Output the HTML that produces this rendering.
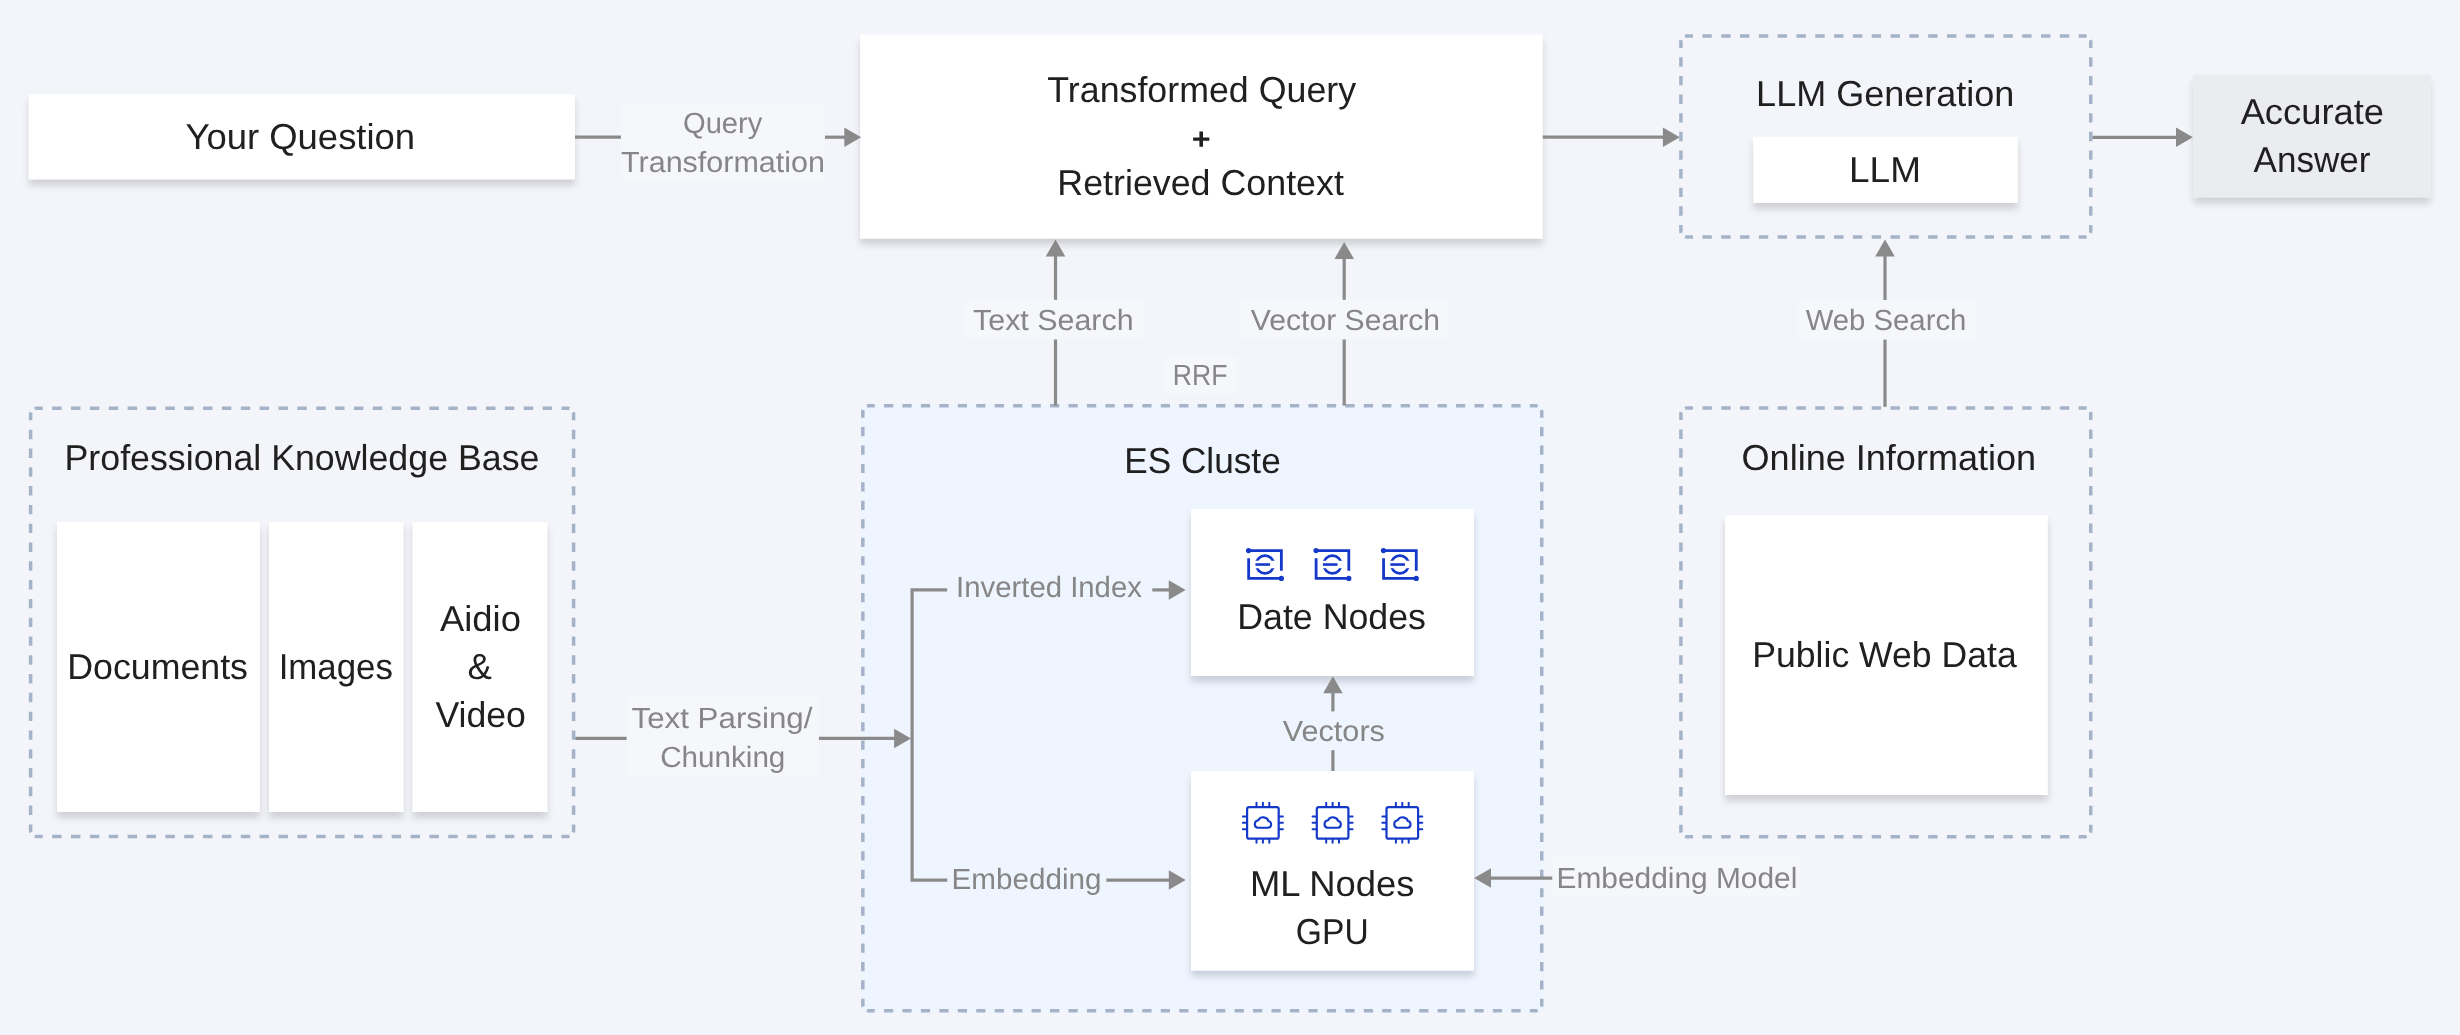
<!DOCTYPE html>
<html lang="en"><head><meta charset="utf-8"><title>RAG architecture with Elasticsearch</title>
<style>
html,body{margin:0;padding:0;}
body{width:2460px;height:1035px;background:#f3f5fa;overflow:hidden;position:relative;font-family:"Liberation Sans", sans-serif;}
svg{position:absolute;left:0;top:0;will-change:transform;}
text{font-family:"Liberation Sans", sans-serif;text-anchor:start;text-rendering:geometricPrecision;}
.m{fill:#202020;}
.l{fill:#868686;}
</style></head><body>
<svg width="2460" height="1035" viewBox="0 0 2460 1035">
<g>
<g stroke="#a5b3c8" stroke-width="3.5" fill="none"><path d="M1685.03,36.30 A6,6 0 0 1 1686.90,36.00 L2084.75,36.00 A6,6 0 0 1 2086.62,36.30" stroke-dasharray="9.4058" stroke-dashoffset="1.4"/><path d="M2090.45,40.13 A6,6 0 0 1 2090.75,42.00 L2090.75,231.00 A6,6 0 0 1 2090.45,232.87" stroke-dasharray="9.3143" stroke-dashoffset="1.4"/><path d="M2086.62,236.70 A6,6 0 0 1 2084.75,237.00 L1686.90,237.00 A6,6 0 0 1 1685.03,236.70" stroke-dasharray="9.4058" stroke-dashoffset="1.4"/><path d="M1681.20,232.87 A6,6 0 0 1 1680.90,231.00 L1680.90,42.00 A6,6 0 0 1 1681.20,40.13" stroke-dasharray="9.3143" stroke-dashoffset="1.4"/></g>
<g stroke="#a5b3c8" stroke-width="3.5" fill="none"><path d="M34.73,408.55 A6,6 0 0 1 36.60,408.25 L567.60,408.25 A6,6 0 0 1 569.47,408.55" stroke-dasharray="9.4316" stroke-dashoffset="1.4"/><path d="M573.30,412.38 A6,6 0 0 1 573.60,414.25 L573.60,830.50 A6,6 0 0 1 573.30,832.37" stroke-dasharray="9.3967" stroke-dashoffset="1.4"/><path d="M569.47,836.20 A6,6 0 0 1 567.60,836.50 L36.60,836.50 A6,6 0 0 1 34.73,836.20" stroke-dasharray="9.4316" stroke-dashoffset="1.4"/><path d="M30.90,832.37 A6,6 0 0 1 30.60,830.50 L30.60,414.25 A6,6 0 0 1 30.90,412.38" stroke-dasharray="9.3967" stroke-dashoffset="1.4"/></g>
<rect x="861.08" y="404.12" width="682.42" height="608.37" rx="6" fill="#eef5ff"/><g stroke="#a5b3c8" stroke-width="3.5" fill="none"><path d="M866.96,406.17 A6,6 0 0 1 868.83,405.87 L1535.75,405.87 A6,6 0 0 1 1537.62,406.17" stroke-dasharray="9.2263" stroke-dashoffset="1.4"/><path d="M1541.45,410.00 A6,6 0 0 1 1541.75,411.87 L1541.75,1004.74 A6,6 0 0 1 1541.45,1006.61" stroke-dasharray="9.2226" stroke-dashoffset="1.4"/><path d="M1537.62,1010.44 A6,6 0 0 1 1535.75,1010.74 L868.83,1010.74 A6,6 0 0 1 866.96,1010.44" stroke-dasharray="9.2263" stroke-dashoffset="1.4"/><path d="M863.13,1006.61 A6,6 0 0 1 862.83,1004.74 L862.83,411.87 A6,6 0 0 1 863.13,410.00" stroke-dasharray="9.2226" stroke-dashoffset="1.4"/></g>
<g stroke="#a5b3c8" stroke-width="3.5" fill="none"><path d="M1685.03,408.30 A6,6 0 0 1 1686.90,408.00 L2084.75,408.00 A6,6 0 0 1 2086.62,408.30" stroke-dasharray="9.4058" stroke-dashoffset="1.4"/><path d="M2090.45,412.13 A6,6 0 0 1 2090.75,414.00 L2090.75,830.75 A6,6 0 0 1 2090.45,832.62" stroke-dasharray="9.4078" stroke-dashoffset="1.4"/><path d="M2086.62,836.45 A6,6 0 0 1 2084.75,836.75 L1686.90,836.75 A6,6 0 0 1 1685.03,836.45" stroke-dasharray="9.4058" stroke-dashoffset="1.4"/><path d="M1681.20,832.62 A6,6 0 0 1 1680.90,830.75 L1680.90,414.00 A6,6 0 0 1 1681.20,412.13" stroke-dasharray="9.4078" stroke-dashoffset="1.4"/></g>
</g>
</svg>
<svg width="2460" height="1035" viewBox="0 0 2460 1035">
<defs><filter id="sh" x="-20%" y="-20%" width="140%" height="160%"><feDropShadow dx="0" dy="6" stdDeviation="3.6" flood-color="#000" flood-opacity="0.15"/></filter><clipPath id="esc"><rect x="0" y="0" width="34" height="10.2"/><rect x="0" y="17.75" width="34" height="12"/></clipPath></defs>
<g transform="translate(0.25,0.25)">
<g filter="url(#sh)">
<rect x="28.5" y="94" width="546.1" height="85" fill="#fff"/>
<rect x="860" y="34.25" width="682.5" height="204" fill="#fff"/>
<rect x="1753" y="136.5" width="264.5" height="66.25" fill="#fff"/>
<rect x="2193.25" y="74.25" width="236.75" height="122.75" fill="#ebecf0"/>
<rect x="56.75" y="521.75" width="202.75" height="290" fill="#fff"/>
<rect x="268.75" y="521.75" width="134.25" height="290" fill="#fff"/>
<rect x="412.5" y="521.75" width="134.5" height="290" fill="#fff"/>
<rect x="1190.75" y="508.75" width="283" height="167" fill="#fff"/>
<rect x="1190.75" y="770.75" width="283" height="199.5" fill="#fff"/>
<rect x="1724.75" y="515" width="322.75" height="279.75" fill="#fff"/>
</g>
</g>
<g fill="none" stroke="#8a8a8a" stroke-width="3.2">
<polyline points="575,137.2 620.95,137.2"/>
<polyline points="824.8,137.2 846,137.2"/>
<polyline points="1542.75,137.2 1664,137.2"/>
<polyline points="2092.5,137.3 2177,137.3"/>
<polyline points="1055.5,255 1055.5,299.9"/>
<polyline points="1055.5,339.5 1055.5,405.6"/>
<polyline points="1344.2,257 1344.2,299.9"/>
<polyline points="1344.2,339.5 1344.2,405.6"/>
<polyline points="1885,255 1885,300.1"/>
<polyline points="1885,339.5 1885,406.8"/>
<polyline points="575.3,738.4 626.8,738.4"/>
<polyline points="818.75,738.4 896,738.4"/>
<polyline points="947.2,589.9 912.1,589.9 912.1,880.1 947.3,880.1"/>
<polyline points="1152.3,589.9 1171,589.9"/>
<polyline points="1106.4,880.1 1171,880.1"/>
<polyline points="1332.9,691 1332.9,711.4"/>
<polyline points="1332.9,750.2 1332.9,771"/>
<polyline points="1489,878.1 1552.5,878.1"/>
</g>
<g fill="#8a8a8a">
<polygon points="861.2,137.15 844.3,127.4 844.3,146.9"/>
<polygon points="1679.8,137.2 1662.9,127.45 1662.9,146.95"/>
<polygon points="2192.9,137.3 2176,127.55 2176,147.05"/>
<polygon points="1055.5,239.5 1045.75,256.4 1065.25,256.4"/>
<polygon points="1344.2,242 1334.45,258.9 1353.95,258.9"/>
<polygon points="1885,239.5 1875.25,256.4 1894.75,256.4"/>
<polygon points="911,738.4 894.1,728.65 894.1,748.15"/>
<polygon points="1185.65,589.9 1168.75,580.15 1168.75,599.65"/>
<polygon points="1185.7,880.1 1168.8,870.35 1168.8,889.85"/>
<polygon points="1332.9,676.3 1323.15,693.2 1342.65,693.2"/>
<polygon points="1474.1,878.1 1491,868.35 1491,887.85"/>
</g>
<g fill="#f6f7fb">
<rect x="620.95" y="103.05" width="203.85" height="77.8"/>
<rect x="963.65" y="299.9" width="180.75" height="38.9"/>
<rect x="1241" y="299.9" width="208" height="38.9"/>
<rect x="1163.9" y="355.1" width="73.2" height="39"/>
<rect x="1796.75" y="300.1" width="180.25" height="39"/>
<rect x="626.8" y="697.9" width="191.95" height="77.9"/>
<rect x="1552.5" y="857.9" width="249.2" height="39.2"/>
</g>
<g transform="translate(1248.56,550.53)" fill="none" stroke="#1439c9" stroke-width="2.8"><path d="M0,0 H32.8 V20.2"/><path d="M0.1,7.6 V27.9 H32.8"/><path d="M6.9,14 H21.5" stroke-width="2.6"/><circle cx="16.45" cy="13.97" r="8.9" stroke-width="2.6" clip-path="url(#esc)"/><circle cx="0" cy="0" r="2.6" fill="#1439c9" stroke="none"/><circle cx="32.8" cy="27.9" r="2.6" fill="#1439c9" stroke="none"/></g>
<g transform="translate(1316.01,550.53)" fill="none" stroke="#1439c9" stroke-width="2.8"><path d="M0,0 H32.8 V20.2"/><path d="M0.1,7.6 V27.9 H32.8"/><path d="M6.9,14 H21.5" stroke-width="2.6"/><circle cx="16.45" cy="13.97" r="8.9" stroke-width="2.6" clip-path="url(#esc)"/><circle cx="0" cy="0" r="2.6" fill="#1439c9" stroke="none"/><circle cx="32.8" cy="27.9" r="2.6" fill="#1439c9" stroke="none"/></g>
<g transform="translate(1383.46,550.53)" fill="none" stroke="#1439c9" stroke-width="2.8"><path d="M0,0 H32.8 V20.2"/><path d="M0.1,7.6 V27.9 H32.8"/><path d="M6.9,14 H21.5" stroke-width="2.6"/><circle cx="16.45" cy="13.97" r="8.9" stroke-width="2.6" clip-path="url(#esc)"/><circle cx="0" cy="0" r="2.6" fill="#1439c9" stroke="none"/><circle cx="32.8" cy="27.9" r="2.6" fill="#1439c9" stroke="none"/></g>
<g transform="translate(1262.9,822.85)" fill="none" stroke="#1439c9" stroke-width="2.2" stroke-linecap="round" stroke-linejoin="round"><rect x="-15.8" y="-15.8" width="31.6" height="31.6" rx="2"/><path d="M-6.4,-16.5 V-20 M-6.4,16.5 V20 M-16.5,-6.4 H-20 M16.5,-6.4 H20" stroke-width="2"/><path d="M0,-16.5 V-20 M0,16.5 V20 M-16.5,0 H-20 M16.5,0 H20" stroke-width="2"/><path d="M6.4,-16.5 V-20 M6.4,16.5 V20 M-16.5,6.4 H-20 M16.5,6.4 H20" stroke-width="2"/><path d="M-5.6,4.9 H5.2 A3.4,3.4 0 0 0 5.6,-1.8 A5.6,5.6 0 0 0 -4.6,-2.6 A3.9,3.9 0 0 0 -5.6,4.9 Z" stroke-width="2.1"/></g>
<g transform="translate(1332.6,822.85)" fill="none" stroke="#1439c9" stroke-width="2.2" stroke-linecap="round" stroke-linejoin="round"><rect x="-15.8" y="-15.8" width="31.6" height="31.6" rx="2"/><path d="M-6.4,-16.5 V-20 M-6.4,16.5 V20 M-16.5,-6.4 H-20 M16.5,-6.4 H20" stroke-width="2"/><path d="M0,-16.5 V-20 M0,16.5 V20 M-16.5,0 H-20 M16.5,0 H20" stroke-width="2"/><path d="M6.4,-16.5 V-20 M6.4,16.5 V20 M-16.5,6.4 H-20 M16.5,6.4 H20" stroke-width="2"/><path d="M-5.6,4.9 H5.2 A3.4,3.4 0 0 0 5.6,-1.8 A5.6,5.6 0 0 0 -4.6,-2.6 A3.9,3.9 0 0 0 -5.6,4.9 Z" stroke-width="2.1"/></g>
<g transform="translate(1402.3,822.85)" fill="none" stroke="#1439c9" stroke-width="2.2" stroke-linecap="round" stroke-linejoin="round"><rect x="-15.8" y="-15.8" width="31.6" height="31.6" rx="2"/><path d="M-6.4,-16.5 V-20 M-6.4,16.5 V20 M-16.5,-6.4 H-20 M16.5,-6.4 H20" stroke-width="2"/><path d="M0,-16.5 V-20 M0,16.5 V20 M-16.5,0 H-20 M16.5,0 H20" stroke-width="2"/><path d="M6.4,-16.5 V-20 M6.4,16.5 V20 M-16.5,6.4 H-20 M16.5,6.4 H20" stroke-width="2"/><path d="M-5.6,4.9 H5.2 A3.4,3.4 0 0 0 5.6,-1.8 A5.6,5.6 0 0 0 -4.6,-2.6 A3.9,3.9 0 0 0 -5.6,4.9 Z" stroke-width="2.1"/></g>
<text class="m" x="185.50" y="148.75" font-size="36" textLength="229.60" lengthAdjust="spacingAndGlyphs">Your Question</text>
<text class="m" x="1047.34" y="101.8" font-size="36" textLength="308.75" lengthAdjust="spacingAndGlyphs">Transformed Query</text>
<text class="m" x="1191.75" y="148.7" font-size="30" font-weight="700" textLength="18.91" lengthAdjust="spacingAndGlyphs">+</text>
<text class="m" x="1057.30" y="195.1" font-size="36" textLength="286.55" lengthAdjust="spacingAndGlyphs">Retrieved Context</text>
<text class="m" x="1756.11" y="105.85" font-size="36" textLength="258.22" lengthAdjust="spacingAndGlyphs">LLM Generation</text>
<text class="m" x="1849.10" y="181.7" font-size="36" textLength="71.79" lengthAdjust="spacingAndGlyphs">LLM</text>
<text class="m" x="2240.63" y="123.95" font-size="36" textLength="143.41" lengthAdjust="spacingAndGlyphs">Accurate</text>
<text class="m" x="2253.56" y="171.75" font-size="36" textLength="116.94" lengthAdjust="spacingAndGlyphs">Answer</text>
<text class="m" x="64.52" y="469.9" font-size="36" textLength="474.90" lengthAdjust="spacingAndGlyphs">Professional Knowledge Base</text>
<text class="m" x="67.20" y="678.95" font-size="36" textLength="180.80" lengthAdjust="spacingAndGlyphs">Documents</text>
<text class="m" x="278.64" y="679" font-size="36" textLength="114.28" lengthAdjust="spacingAndGlyphs">Images</text>
<text class="m" x="439.95" y="630.8" font-size="36" textLength="80.95" lengthAdjust="spacingAndGlyphs">Aidio</text>
<text class="m" x="467.55" y="679" font-size="36" textLength="24.44" lengthAdjust="spacingAndGlyphs">&amp;</text>
<text class="m" x="435.42" y="726.8" font-size="36" textLength="90.50" lengthAdjust="spacingAndGlyphs">Video</text>
<text class="m" x="1124.19" y="472.9" font-size="36" textLength="156.54" lengthAdjust="spacingAndGlyphs">ES Cluste</text>
<text class="m" x="1237.22" y="629.4" font-size="36" textLength="188.78" lengthAdjust="spacingAndGlyphs">Date Nodes</text>
<text class="m" x="1250.06" y="896.05" font-size="36" textLength="164.45" lengthAdjust="spacingAndGlyphs">ML Nodes</text>
<text class="m" x="1295.86" y="944" font-size="36" textLength="72.79" lengthAdjust="spacingAndGlyphs">GPU</text>
<text class="m" x="1741.54" y="469.9" font-size="36" textLength="294.63" lengthAdjust="spacingAndGlyphs">Online Information</text>
<text class="m" x="1752.26" y="666.85" font-size="36" textLength="264.45" lengthAdjust="spacingAndGlyphs">Public Web Data</text>
<text class="l" x="683.01" y="133.05" font-size="29.2" textLength="79.32" lengthAdjust="spacingAndGlyphs">Query</text>
<text class="l" x="621.07" y="172.1" font-size="29.2" textLength="203.90" lengthAdjust="spacingAndGlyphs">Transformation</text>
<text class="l" x="973.07" y="330.2" font-size="29.2" textLength="160.50" lengthAdjust="spacingAndGlyphs">Text Search</text>
<text class="l" x="1250.81" y="330.2" font-size="29.2" textLength="189.33" lengthAdjust="spacingAndGlyphs">Vector Search</text>
<text class="l" x="1172.85" y="385.2" font-size="29.2" textLength="54.78" lengthAdjust="spacingAndGlyphs">RRF</text>
<text class="l" x="1805.68" y="330.1" font-size="29.2" textLength="160.67" lengthAdjust="spacingAndGlyphs">Web Search</text>
<text class="l" x="631.51" y="727.9" font-size="29.2" textLength="180.93" lengthAdjust="spacingAndGlyphs">Text Parsing/</text>
<text class="l" x="660.16" y="766.7" font-size="29.2" textLength="125.20" lengthAdjust="spacingAndGlyphs">Chunking</text>
<text class="l" x="956.03" y="596.5" font-size="29.2" textLength="185.91" lengthAdjust="spacingAndGlyphs">Inverted Index</text>
<text class="l" x="951.57" y="888.7" font-size="29.2" textLength="150.05" lengthAdjust="spacingAndGlyphs">Embedding</text>
<text class="l" x="1282.82" y="741.3" font-size="29.2" textLength="102.09" lengthAdjust="spacingAndGlyphs">Vectors</text>
<text class="l" x="1556.51" y="887.95" font-size="29.2" textLength="240.86" lengthAdjust="spacingAndGlyphs">Embedding Model</text>
</svg>
</body></html>
